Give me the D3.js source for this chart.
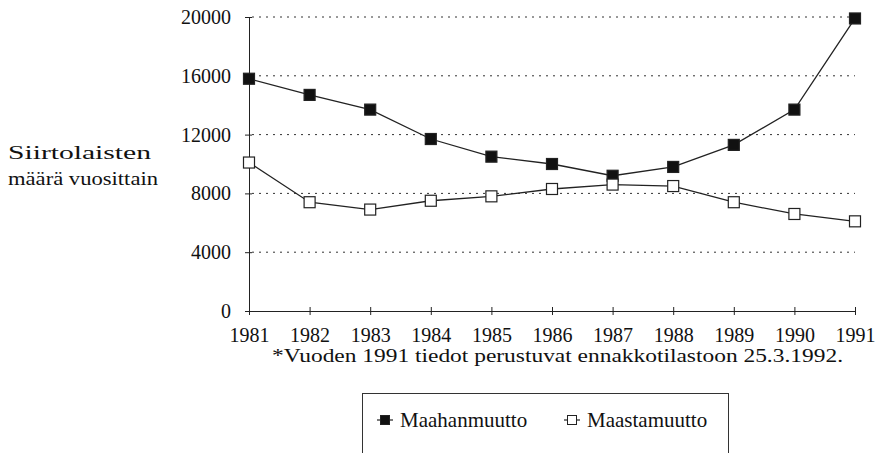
<!DOCTYPE html>
<html><head><meta charset="utf-8">
<script src="https://cdn.jsdelivr.net/npm/d3@7"></script>
</head><body style="margin:0;background:#fff">
<svg id="c" width="880" height="453" font-family="Liberation Serif" style="display:block"></svg>
<script>
const years = ["1981","1982","1983","1984","1985","1986","1987","1988","1989","1990","1991"];
const maahanmuutto = [15800,14700,13700,11700,10500,10000,9200,9800,11300,13700,19900];
const maastamuutto = [10100,7400,6900,7500,7800,8300,8600,8500,7400,6600,6100];
const yTicks = [0,4000,8000,12000,16000,20000];
const seriesNames = ["Maahanmuutto","Maastamuutto"];
const yLabelLines = ["Siirtolaisten","määrä vuosittain"];
const footnote = "*Vuoden 1991 tiedot perustuvat ennakkotilastoon 25.3.1992.";

const FS = sz => "font-family:'Liberation Serif';font-size:"+sz+"px;fill:#111";
const svg = d3.select("#c");
const x = d3.scalePoint().domain(years).range([249,855]);
const y = d3.scaleLinear().domain([0,20000]).range([311,17]);

svg.append("g").selectAll("line").data(yTicks.filter(d=>d>0)).join("line")
  .attr("x1",252).attr("x2",855).attr("y1",d=>y(d)).attr("y2",d=>y(d))
  .attr("stroke","#333").attr("stroke-width",1).attr("stroke-dasharray","2,5");

const ya = svg.append("g").attr("transform","translate(249,0)")
  .call(d3.axisLeft(y).tickValues(yTicks).tickSize(4).tickPadding(14).tickFormat(d3.format("d")));
ya.attr("font-family","Liberation Serif").attr("font-size",20);
ya.select(".domain").attr("stroke","#222");
ya.selectAll(".tick line").attr("x2",3).attr("x1",-4).attr("stroke","#222");
ya.selectAll("text").attr("style",FS(20));

const xa = svg.append("g").attr("transform","translate(0,311)")
  .call(d3.axisBottom(x).tickSize(4).tickPadding(13).tickSizeOuter(0));
xa.attr("font-family","Liberation Serif").attr("font-size",20);
xa.select(".domain").attr("stroke","#222");
xa.selectAll(".tick line").attr("y1",-4).attr("y2",4).attr("stroke","#222");
xa.selectAll("text").attr("style",FS(20));

const line = d3.line().x((d,i)=>x(years[i])).y(d=>y(d));
[maahanmuutto, maastamuutto].forEach((s,k)=>{
  svg.append("path").datum(s).attr("d",line).attr("fill","none").attr("stroke","#222").attr("stroke-width",1.3);
});
[maahanmuutto, maastamuutto].forEach((s,k)=>{
  svg.append("g").selectAll("rect").data(s).join("rect")
    .attr("x",(d,i)=>x(years[i])-5.5).attr("y",d=>y(d)-5.5)
    .attr("width",11).attr("height",11)
    .attr("fill",k===0?"#111":"#fff").attr("stroke","#222").attr("stroke-width",1.2);
});

svg.append("text").attr("x",8).attr("y",159).attr("style",FS(19)).attr("textLength",143).attr("lengthAdjust","spacingAndGlyphs").text(yLabelLines[0]);
svg.append("text").attr("x",8).attr("y",185).attr("style",FS(19)).attr("textLength",150).attr("lengthAdjust","spacingAndGlyphs").text(yLabelLines[1]);

svg.append("text").attr("x",272).attr("y",362).attr("style",FS(19)).attr("textLength",571).attr("lengthAdjust","spacingAndGlyphs").text(footnote);

svg.append("rect").attr("x",362.5).attr("y",393.5).attr("width",366).attr("height",70).attr("fill","none").attr("stroke","#333");
const lg = svg.append("g");
const items = [{name:seriesNames[0],fill:"#111",x:385},{name:seriesNames[1],fill:"#fff",x:572}];
items.forEach(it=>{
  lg.append("line").attr("x1",it.x-8).attr("x2",it.x+8).attr("y1",420).attr("y2",420).attr("stroke","#222").attr("stroke-width",1.2);
  lg.append("rect").attr("x",it.x-4.5).attr("y",415.5).attr("width",9).attr("height",9).attr("fill",it.fill).attr("stroke","#222");
  lg.append("text").attr("x",it.x+15).attr("y",427).attr("style",FS(21)).text(it.name);
});
</script>
</body></html>
